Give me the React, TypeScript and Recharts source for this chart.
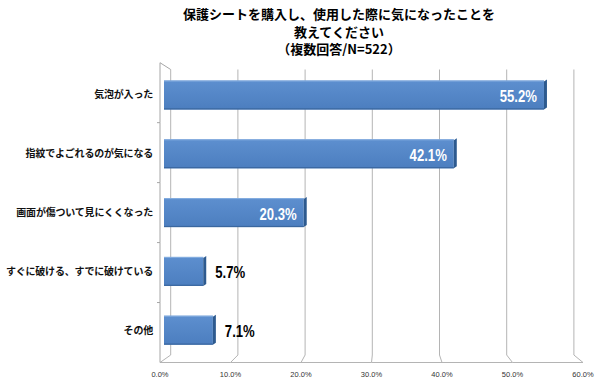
import React from 'react';
import { BarChart, Bar, XAxis, YAxis, CartesianGrid, LabelList } from 'recharts';

const titleLines = ['保護シートを購入し、使用した際に気になったことを', '教えてください', '（複数回答/N=522）'];
const categories = [
  '気泡が入った',
  '指紋でよごれるのが気になる',
  '画面が傷ついて見にくくなった',
  'すぐに破ける、すでに破けている',
  'その他',
];
const values = [55.2, 42.1, 20.3, 5.7, 7.1];
const xTicks = [0, 10, 20, 30, 40, 50, 60];

const data = categories.map((name, i) => ({ name, value: values[i] }));

// geometry of the pseudo-3D frame
const W = 600;
const H = 382;
const PLOT_LEFT = 164;
const PLOT_RIGHT = 577;
const PLOT_TOP = 65.5;
const PLOT_BOTTOM = 359.5;
const PLOT_W = PLOT_RIGHT - PLOT_LEFT;
const PLOT_H = PLOT_BOTTOM - PLOT_TOP;
const FRONT_LEFT = 160;
const FRONT_RIGHT = 583;
const FRONT_TOP = 62.7;
const FRONT_BOTTOM = 362.5;
const BACK_LEFT = 170.7;
const BACK_RIGHT = 573.9;
const BACK_TOP = 69.5;
const BACK_BOTTOM = 355;

const frontX = (x: number) => FRONT_LEFT + ((x - PLOT_LEFT) * (FRONT_RIGHT - FRONT_LEFT)) / PLOT_W;
const backX = (x: number) => BACK_LEFT + ((x - PLOT_LEFT) * (BACK_RIGHT - BACK_LEFT)) / PLOT_W;
const frontY = (y: number) => FRONT_TOP + ((y - PLOT_TOP) * (FRONT_BOTTOM - FRONT_TOP)) / PLOT_H;

const GRID = '#b4b4b4';
const WALL = '#a6a6a6';

const XTick = (props: any) => {
  const { x, payload, index } = props;
  const fx = frontX(x);
  const bx = backX(x);
  const step = PLOT_W / (xTicks.length - 1);
  const isLast = index === xTicks.length - 1;
  return (
    <g>
      <line x1={bx} y1={BACK_BOTTOM} x2={fx} y2={FRONT_BOTTOM} stroke={GRID} strokeWidth={1} />
      {!isLast && (
        <line x1={fx} y1={FRONT_BOTTOM} x2={frontX(x + step)} y2={FRONT_BOTTOM} stroke={GRID} strokeWidth={1} />
      )}
      <text
        x={fx}
        y={376.5}
        textAnchor="middle"
        fontSize={7.5}
        fill="#333"
        fontFamily="'Liberation Sans', Arial, sans-serif"
      >
        {`${Number(payload.value).toFixed(1)}%`}
      </text>
    </g>
  );
};

const YTick = (props: any) => {
  const { y, payload, index } = props;
  const band = PLOT_H / categories.length;
  const top = frontY(y - band / 2);
  const bottom = frontY(y + band / 2);
  const isLast = index === categories.length - 1;
  return (
    <g>
      <line x1={FRONT_LEFT} y1={top} x2={FRONT_LEFT} y2={bottom} stroke={WALL} strokeWidth={1} />
      {!isLast && <line x1={FRONT_LEFT - 3} y1={bottom} x2={FRONT_LEFT} y2={bottom} stroke={WALL} strokeWidth={1} />}
      {index === 0 && (
        <line x1={FRONT_LEFT} y1={FRONT_TOP} x2={BACK_LEFT} y2={BACK_TOP} stroke={WALL} strokeWidth={1} />
      )}
      <text
        x={153}
        y={y - 1}
        textAnchor="end"
        dominantBaseline="central"
        fontSize={10}
        fontWeight="bold"
        letterSpacing={-0.2}
        fill="#111"
        fontFamily="'Noto Sans CJK JP', sans-serif"
      >
        {payload.value}
      </text>
    </g>
  );
};

const Bar3D = (props: any) => {
  const { x, y, width, height } = props;
  if (width == null || width <= 0) return null;
  const d = 3;
  return (
    <g>
      <rect x={x} y={y} width={width} height={height} fill="url(#barGrad)" />
      <rect x={x} y={y} width={width} height={1} fill="#86aee0" />
      <rect x={x} y={y + height - 1.2} width={width} height={1.2} fill="#3a679f" />
      <polygon
        points={`${x + width},${y + 1} ${x + width + d},${y - 1} ${x + width + d},${y + height - 2} ${x + width},${y + height}`}
        fill="#2d5a8f"
      />
    </g>
  );
};

const ValueLabel = (props: any) => {
  const { x, y, width, height, value } = props;
  const inside = value > 15;
  const tx = inside ? x + width - 7 : x + width + 12;
  const ty = y + height / 2 + 1.5;
  return (
    <text
      transform={`translate(${tx},${ty}) scale(0.82,1)`}
      x={0}
      y={0}
      textAnchor={inside ? 'end' : 'start'}
      dominantBaseline="central"
      fontSize={16}
      fontWeight="bold"
      fill={inside ? '#ffffff' : '#000000'}
      fontFamily="'Liberation Sans', Arial, sans-serif"
    >
      {`${Number(value).toFixed(1)}%`}
    </text>
  );
};

const gridGen = (args: any) => {
  const xAxis = args && args.xAxis;
  const s = xAxis && xAxis.scale;
  const f =
    typeof s === 'function'
      ? (v: number) => s(v)
      : s && typeof s.map === 'function'
      ? (v: number) => s.map(v)
      : (v: number) => PLOT_LEFT + (v / 60) * PLOT_W;
  return xTicks.map((t) => backX(f(t)));
};

export default function App() {
  return (
    <div style={{ position: 'absolute', left: 0, top: 0, width: W, height: H, background: '#fff' }}>
      <div
        style={{
          position: 'absolute',
          left: 139,
          top: 5,
          width: 400,
          textAlign: 'center',
          fontFamily: "'Noto Sans CJK JP', sans-serif",
          fontWeight: 'bold',
          fontSize: 13,
          lineHeight: '17.5px',
          color: '#000',
        }}
      >
        {titleLines.map((l) => (
          <div key={l}>{l}</div>
        ))}
      </div>
      <BarChart
        width={W}
        height={H}
        data={data}
        layout="vertical"
        margin={{ top: PLOT_TOP, right: W - PLOT_RIGHT, bottom: 0, left: 0 }}
        barSize={29}
        style={{ position: 'absolute', left: 0, top: 0 }}
      >
        <defs>
          <linearGradient id="barGrad" x1="0" y1="0" x2="0" y2="1">
            <stop offset="0%" stopColor="#5d8fcf" />
            <stop offset="100%" stopColor="#4c7ebf" />
          </linearGradient>
        </defs>
        <CartesianGrid
          horizontal={false}
          vertical={true}
          stroke={GRID}
          strokeWidth={1}
          y={BACK_TOP}
          height={BACK_BOTTOM - BACK_TOP}
          verticalCoordinatesGenerator={gridGen}
        />
        <XAxis
          type="number"
          domain={[0, 60]}
          ticks={xTicks}
          interval={0}
          axisLine={false}
          tickLine={false}
          height={H - PLOT_BOTTOM}
          tick={<XTick />}
        />
        <YAxis
          type="category"
          dataKey="name"
          width={PLOT_LEFT}
          interval={0}
          axisLine={false}
          tickLine={false}
          tick={<YTick />}
        />
        <Bar dataKey="value" shape={<Bar3D />} isAnimationActive={false}>
          <LabelList dataKey="value" content={<ValueLabel />} />
        </Bar>
      </BarChart>
    </div>
  );
}
